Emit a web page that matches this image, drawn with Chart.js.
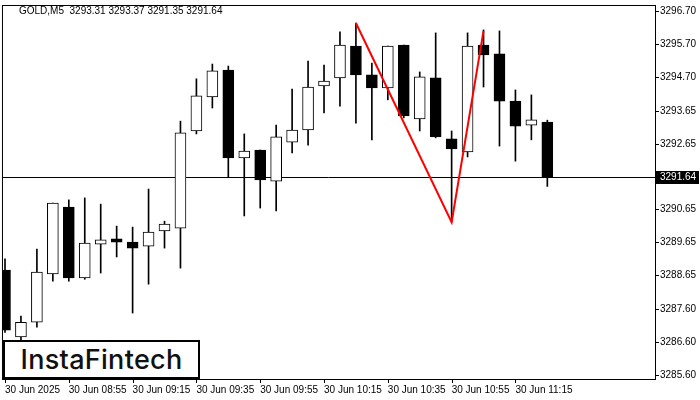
<!DOCTYPE html>
<html><head><meta charset="utf-8">
<script src="https://cdn.jsdelivr.net/npm/chart.js@4"></script>
<style>
  html,body{margin:0;padding:0;background:#fff;}
  #wrap{position:relative;width:700px;height:400px;}
  #logo{position:absolute;left:3px;top:340px;width:193px;height:35px;border:2px solid #000;background:#fff;
    font:500 27px 'Inter','Roboto',sans-serif;color:#111;display:flex;align-items:center;justify-content:center;letter-spacing:0.3px;}
</style></head>
<body><div id="wrap"><canvas id="c" width="700" height="400"></canvas><div id="logo">InstaFintech</div></div>
<script>
/* GOLD M5 candles, 08:35 .. 11:25 */
const opens  = [3288.80,3286.76,3287.21,3288.68,3290.72,3288.56,3289.59,3289.75,3289.65,3289.53,3289.99,3290.08,3293.04,3294.08,3294.90,3292.22,3292.46,3291.51,3292.70,3293.07,3294.41,3294.66,3295.63,3294.75,3294.35,3295.66,3293.41,3294.66,3292.80,3292.40,3295.66,3295.39,3293.95,3293.22,3293.31];
const highs  = [3289.14,3287.40,3289.44,3290.84,3290.94,3291.00,3290.81,3290.14,3290.11,3291.27,3290.29,3293.34,3294.63,3295.08,3295.02,3292.95,3292.46,3293.22,3294.32,3295.17,3295.05,3296.06,3296.33,3295.11,3295.63,3295.66,3294.84,3296.03,3293.04,3296.03,3296.12,3296.09,3294.29,3294.14,3293.37];
const lows   = [3286.90,3286.67,3287.06,3288.46,3288.46,3288.52,3288.71,3289.20,3287.49,3288.37,3289.47,3288.86,3292.95,3293.74,3291.64,3290.45,3290.69,3290.60,3292.37,3292.61,3293.59,3293.80,3293.28,3292.77,3293.99,3293.44,3293.04,3292.83,3290.26,3292.25,3294.38,3292.58,3292.12,3292.77,3291.35];
const closes = [3286.97,3287.21,3288.74,3290.84,3288.56,3289.62,3289.72,3289.65,3289.47,3289.96,3290.20,3292.98,3294.11,3294.87,3292.22,3292.43,3291.55,3292.86,3293.07,3294.38,3294.56,3295.66,3294.75,3294.35,3295.63,3293.50,3294.69,3292.86,3292.49,3295.63,3295.36,3293.95,3293.19,3293.38,3291.64];
const patternIdx = [22, 28, 30];
const patternVal = [3296.33, 3290.26, 3296.09];
const yTicks = [3296.70,3295.70,3294.70,3293.65,3292.65,3290.65,3289.65,3288.65,3287.60,3286.60,3285.60];
const xTickIdx = [0,4,8,12,16,20,24,28,32];
const xTickLabels = ["30 Jun 2025","30 Jun 08:55","30 Jun 09:15","30 Jun 09:35","30 Jun 09:55","30 Jun 10:15","30 Jun 10:35","30 Jun 10:55","30 Jun 11:15"];
const lastPrice = 3291.64;
const title = "GOLD,M5  3293.31 3293.37 3291.35 3291.64";

const FONT = "'Liberation Sans',Arial,sans-serif";
const wicks = highs.map((h, i) => ({ x: i, y: [lows[i], h] }));
const bodies = opens.map((o, i) => ({ x: i, y: [Math.min(o, closes[i]), Math.max(o, closes[i])] }));
const bodyCol = opens.map((o, i) => (closes[i] >= o ? "#fff" : "#000"));

const overlay = {
  id: "overlay",
  beforeDatasetsDraw(ch) {
    const { ctx, chartArea: a, scales: { y } } = ch;
    const py = Math.round(y.getPixelForValue(lastPrice)) + 0.5;
    ctx.save();
    ctx.strokeStyle = "#000"; ctx.lineWidth = 1;
    ctx.beginPath(); ctx.moveTo(a.left, py); ctx.lineTo(a.right, py); ctx.stroke();
    ctx.restore();
  },
  afterDraw(ch) {
    const { ctx, chartArea: a, scales: { x, y } } = ch;
    ctx.save();
    ctx.strokeStyle = "#000"; ctx.lineWidth = 1;
    ctx.strokeRect(a.left + 0.5, a.top + 0.5, a.right - a.left, a.bottom - a.top);
    ctx.beginPath();
    xTickIdx.forEach((v) => { const px = Math.round(x.getPixelForValue(v)) + 0.5; ctx.moveTo(px, a.bottom); ctx.lineTo(px, a.bottom + 4); });
    yTicks.forEach((v) => { const py = Math.round(y.getPixelForValue(v)) + 0.5; ctx.moveTo(a.right, py); ctx.lineTo(a.right + 4, py); });
    ctx.stroke();
    ctx.font = "10px " + FONT; ctx.textBaseline = "middle"; ctx.fillStyle = "#000";
    yTicks.forEach((v) => ctx.fillText(v.toFixed(2), a.right + 5, Math.round(y.getPixelForValue(v)) + 0.5));
    const py = Math.round(y.getPixelForValue(lastPrice));
    ctx.fillStyle = "#000"; ctx.fillRect(a.right, py - 6, 44, 13);
    ctx.fillStyle = "#fff";
    ctx.fillText(lastPrice.toFixed(2), a.right + 5, py + 0.5);
    ctx.fillStyle = "#000"; ctx.fillText(title, a.left + 17, a.top + 6);
    ctx.restore();
  },
};

new Chart(document.getElementById("c"), {
  data: {
    datasets: [
      { type: "line", data: patternIdx.map((x, i) => ({ x, y: patternVal[i] })), borderColor: "#f00", borderWidth: 2, pointRadius: 0, order: 0 },
      { type: "bar", data: bodies, backgroundColor: bodyCol, borderColor: "#000", borderWidth: 1, borderSkipped: false, barThickness: 11, grouped: false, order: 1 },
      { type: "bar", data: wicks, backgroundColor: "#000", barThickness: 1, grouped: false, order: 2 },
    ],
  },
  plugins: [overlay],
  options: {
    responsive: false, animation: false,
    layout: { padding: { top: 5, left: 0, right: 0 } },
    plugins: { legend: { display: false }, tooltip: { enabled: false } },
    scales: {
      x: {
        type: "linear", offset: false, min: -0.19, max: 40.75, grid: { display: false, drawTicks: false },
        border: { display: false },
        afterBuildTicks: (s) => { s.ticks = xTickIdx.map((v) => ({ value: v })); },
        afterFit: (s) => { s.height = 21; },
        ticks: { autoSkip: false, maxRotation: 0, align: "start", padding: 5, color: "#000", font: { size: 10, family: FONT },
          callback: (v) => xTickLabels[xTickIdx.indexOf(v)] },
      },
      y: {
        position: "right", min: 3285.48, max: 3296.88, grid: { display: false },
        border: { display: false },
        afterBuildTicks: (s) => { s.ticks = yTicks.map((v) => ({ value: v })); },
        afterFit: (s) => { s.width = 45; },
        ticks: { display: false },
      },
    },
  },
});
</script></body></html>
